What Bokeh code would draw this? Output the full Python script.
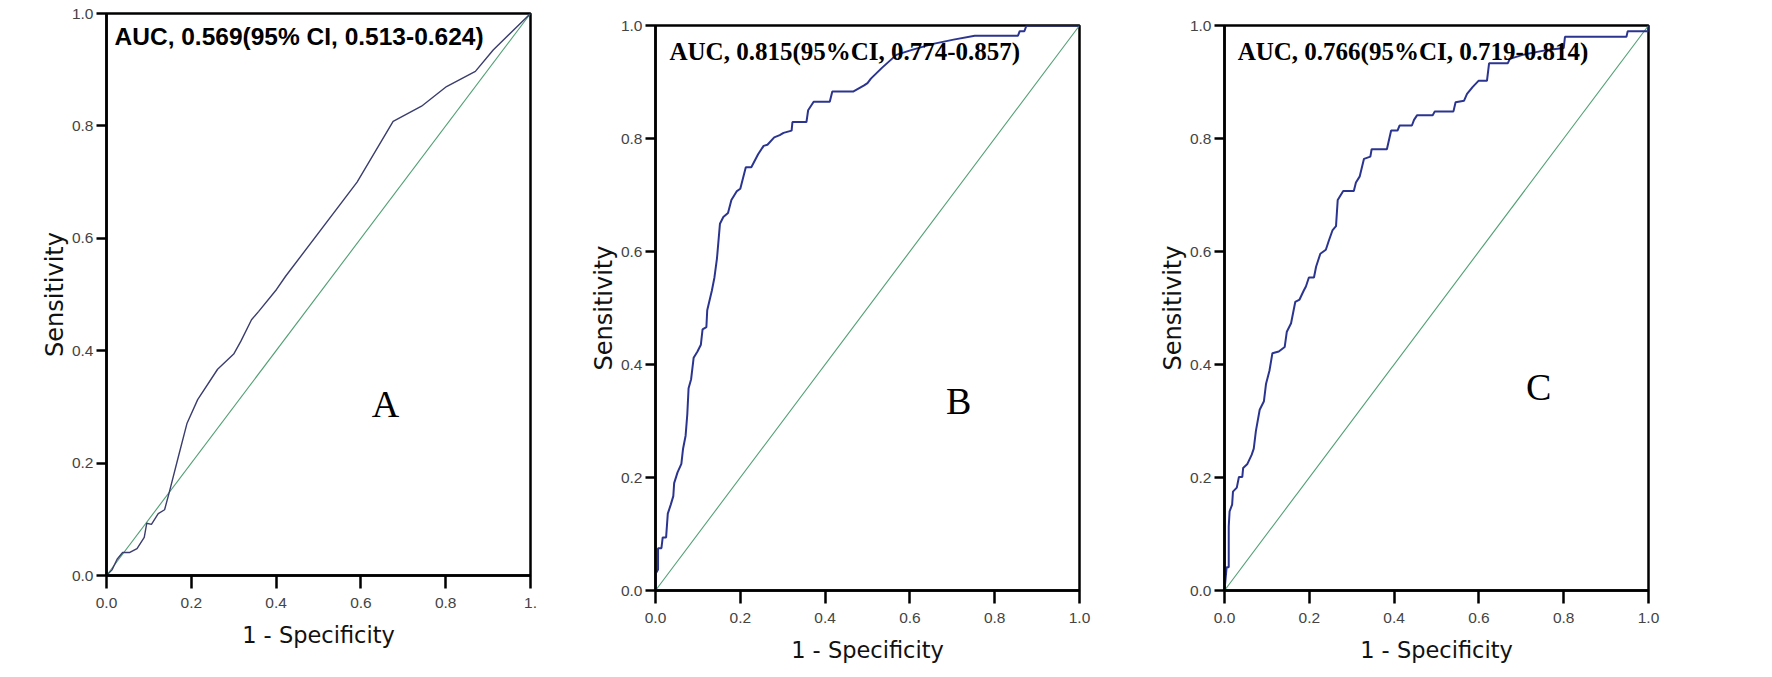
from bokeh.plotting import figure
from bokeh.layouts import row
from bokeh.models import Range1d, FixedTicker, Label
from bokeh.embed import file_html
from bokeh.resources import INLINE

# ---------------- data ----------------
ticks = [0.0, 0.2, 0.4, 0.6, 0.8, 1.0]
tick_labels = ["0.0", "0.2", "0.4", "0.6", "0.8", "1.0"]
tick_labels_a_x = ["0.0", "0.2", "0.4", "0.6", "0.8", "1."]

ref_x = [0.0, 1.0]
ref_y = [0.0, 1.0]

a_fpr = [0.0, 0.013, 0.025, 0.038, 0.055, 0.072, 0.089, 0.095, 0.106, 0.122, 0.137,
         0.148, 0.169, 0.19, 0.215, 0.262, 0.3, 0.317, 0.342, 0.359, 0.401, 0.422,
         0.591, 0.676, 0.743, 0.802, 0.87, 0.912, 1.0]
a_tpr = [0.0, 0.01, 0.029, 0.041, 0.041, 0.048, 0.068, 0.093, 0.091, 0.11, 0.117,
         0.148, 0.21, 0.271, 0.313, 0.367, 0.394, 0.417, 0.455, 0.47, 0.509, 0.532,
         0.70, 0.808, 0.835, 0.87, 0.897, 0.935, 1.0]

b_fpr = [0.0, 0.0, 0.006, 0.006, 0.014, 0.017, 0.025, 0.029, 0.036, 0.042, 0.044,
         0.052, 0.061, 0.065, 0.071, 0.075, 0.078, 0.084, 0.09, 0.099, 0.107, 0.111,
         0.12, 0.122, 0.133, 0.139, 0.145, 0.152, 0.16, 0.171, 0.179, 0.192, 0.2,
         0.213, 0.226, 0.242, 0.255, 0.264, 0.28, 0.293, 0.302, 0.321, 0.323, 0.356,
         0.36, 0.373, 0.411, 0.417, 0.466, 0.492, 0.5, 0.508, 0.534, 0.568, 0.601,
         0.652, 0.703, 0.753, 0.855, 0.859, 0.87, 0.875, 1.0]
b_tpr = [0.0, 0.029, 0.037, 0.075, 0.075, 0.094, 0.094, 0.136, 0.152, 0.167, 0.19,
         0.209, 0.224, 0.251, 0.274, 0.312, 0.358, 0.374, 0.412, 0.423, 0.435, 0.462,
         0.466, 0.496, 0.531, 0.554, 0.588, 0.649, 0.661, 0.668, 0.691, 0.707, 0.711,
         0.749, 0.749, 0.772, 0.787, 0.789, 0.802, 0.806, 0.81, 0.814, 0.829, 0.829,
         0.85, 0.865, 0.865, 0.883, 0.883, 0.894, 0.898, 0.906, 0.925, 0.948, 0.956,
         0.967, 0.975, 0.982, 0.982, 0.99, 0.99, 1.0, 1.0]

c_fpr = [0.0, 0.005, 0.01, 0.01, 0.012, 0.018, 0.02, 0.029, 0.034, 0.042, 0.044,
         0.054, 0.064, 0.069, 0.074, 0.083, 0.093, 0.098, 0.106, 0.113, 0.128, 0.142,
         0.147, 0.157, 0.167, 0.177, 0.187, 0.192, 0.199, 0.211, 0.216, 0.226, 0.239,
         0.246, 0.255, 0.263, 0.267, 0.28, 0.305, 0.31, 0.319, 0.329, 0.344, 0.347,
         0.383, 0.393, 0.408, 0.413, 0.442, 0.447, 0.454, 0.491, 0.496, 0.54, 0.545,
         0.565, 0.572, 0.585, 0.599, 0.619, 0.624, 0.668, 0.673, 0.703, 0.756, 0.8,
         0.803, 0.948, 0.951, 1.0, 1.0]
c_tpr = [0.0, 0.041, 0.041, 0.113, 0.14, 0.152, 0.175, 0.182, 0.201, 0.201, 0.217,
         0.224, 0.24, 0.251, 0.282, 0.32, 0.335, 0.366, 0.389, 0.42, 0.423, 0.431,
         0.458, 0.473, 0.511, 0.515, 0.531, 0.538, 0.554, 0.554, 0.573, 0.596, 0.603,
         0.619, 0.638, 0.645, 0.691, 0.707, 0.707, 0.722, 0.733, 0.764, 0.768, 0.781,
         0.781, 0.814, 0.814, 0.823, 0.823, 0.833, 0.841, 0.841, 0.848, 0.848, 0.864,
         0.867, 0.879, 0.891, 0.902, 0.902, 0.933, 0.933, 0.941, 0.948, 0.956, 0.96,
         0.98, 0.98, 0.99, 0.99, 1.0]

auc_texts = ["AUC, 0.569(95% CI, 0.513-0.624)",
             "AUC, 0.815(95%CI, 0.774-0.857)",
             "AUC, 0.766(95%CI, 0.719-0.814)"]
panel_letters = ["A", "B", "C"]
x_title = "1 - Specificity"
y_title = "Sensitivity"


def make_panel(fpr, tpr, xlabels, auc_text, letter, left, right, top, bottom,
               frame_h, curve_color, curve_w, auc_pos, auc_font, auc_size,
               letter_pos, styles=None):
    p = figure(frame_width=424, frame_height=frame_h, title=None,
               min_border_left=left, min_border_right=right,
               min_border_top=top, min_border_bottom=bottom,
               x_range=Range1d(0, 1), y_range=Range1d(0, 1),
               output_backend="svg", toolbar_location=None,
               background_fill_color="white", border_fill_color="white")
    if styles:
        p.styles = styles
    p.grid.visible = False
    p.outline_line_color = "black"
    p.outline_line_width = 2.5

    for ax, labels, tout in ((p.xaxis[0], xlabels, 13), (p.yaxis[0], tick_labels, 10)):
        ax.ticker = FixedTicker(ticks=ticks)
        ax.major_label_overrides = {t: l for t, l in zip(ticks, labels)}
        ax.minor_tick_line_color = None
        ax.major_tick_out = tout
        ax.major_tick_in = 0
        ax.major_tick_line_width = 2.5
        ax.major_tick_line_color = "black"
        ax.axis_line_width = 2.5
        ax.axis_line_color = "black"
        ax.major_label_text_font = "Liberation Sans"
        ax.major_label_text_font_size = "15.5px"
        ax.major_label_text_color = "#444444"
        ax.axis_label_text_font = "DejaVu Sans"
        ax.axis_label_text_font_style = "normal"
        ax.axis_label_text_color = "#111111"

    p.xaxis.axis_label = x_title
    p.yaxis.axis_label = y_title
    p.xaxis.major_label_standoff = 9
    p.yaxis.major_label_standoff = 3
    p.xaxis.axis_label_text_font_size = "22.5px"
    p.yaxis.axis_label_text_font_size = "24px"
    p.xaxis.axis_label_standoff = 11
    p.yaxis.axis_label_standoff = 0

    p.line(ref_x, ref_y, line_color="#4f9f72", line_width=1.1)
    p.line(fpr, tpr, line_color=curve_color, line_width=curve_w)

    p.add_layout(Label(x=auc_pos[0], y=auc_pos[1], text=auc_text,
                       text_font=auc_font, text_font_style="bold",
                       text_font_size=auc_size, text_color="black",
                       text_baseline="middle", text_align="left"))
    p.add_layout(Label(x=letter_pos[0], y=letter_pos[1], text=letter,
                       text_font="Liberation Serif", text_font_size="38px",
                       text_color="black", text_baseline="middle",
                       text_align="center"))
    return p


# Panel A sits 12 px higher than B and C in the reference; the row aligns the
# plot frames, so it is lifted afterwards with a CSS transform.
pa = make_panel(a_fpr, a_tpr, tick_labels_a_x, auc_texts[0], panel_letters[0],
                106, 52, 25, 90, 562, "#3a3d6e", 1.4, (0.019, 0.959),
                "Liberation Sans", "24.5px", (0.658, 0.306),
                styles={"transform": "translate(0px, -12px)"})
pb = make_panel(b_fpr, b_tpr, tick_labels, auc_texts[1], panel_letters[1],
                73, 71, 25, 87, 565, "#2b3590", 2.0, (0.033, 0.954),
                "Liberation Serif", "25px", (0.715, 0.336))
pc = make_panel(c_fpr, c_tpr, tick_labels, auc_texts[2], panel_letters[2],
                74, 124, 25, 87, 565, "#2b3590", 2.0, (0.031, 0.954),
                "Liberation Serif", "25px", (0.741, 0.361))

layout = row(pa, pb, pc, spacing=0)
open("out.html", "w").write(file_html(layout, INLINE))
